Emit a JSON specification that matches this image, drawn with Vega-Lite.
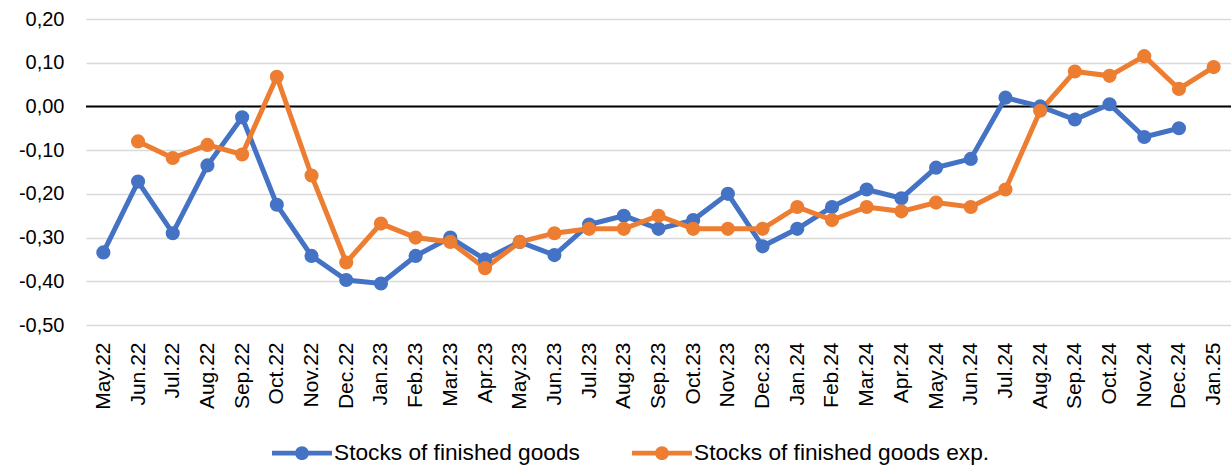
{
  "$schema": "https://vega.github.io/schema/vega-lite/v6.json",
  "autosize": {"type": "none"},
  "padding": {"left": 86, "top": 19, "right": 0, "bottom": 143},
  "width": 1145,
  "height": 306,
  "background": "white",
  "config": {
    "view": {"stroke": null},
    "font": "Liberation Sans"
  },
  "data": {
    "values": [
      {"month": "May.22", "series": "Stocks of finished goods", "value": -0.334},
      {"month": "Jun.22", "series": "Stocks of finished goods", "value": -0.172},
      {"month": "Jun.22", "series": "Stocks of finished goods exp.", "value": -0.08},
      {"month": "Jul.22", "series": "Stocks of finished goods", "value": -0.29},
      {"month": "Jul.22", "series": "Stocks of finished goods exp.", "value": -0.118},
      {"month": "Aug.22", "series": "Stocks of finished goods", "value": -0.135},
      {"month": "Aug.22", "series": "Stocks of finished goods exp.", "value": -0.088},
      {"month": "Sep.22", "series": "Stocks of finished goods", "value": -0.025},
      {"month": "Sep.22", "series": "Stocks of finished goods exp.", "value": -0.11},
      {"month": "Oct.22", "series": "Stocks of finished goods", "value": -0.225},
      {"month": "Oct.22", "series": "Stocks of finished goods exp.", "value": 0.068},
      {"month": "Nov.22", "series": "Stocks of finished goods", "value": -0.342},
      {"month": "Nov.22", "series": "Stocks of finished goods exp.", "value": -0.158},
      {"month": "Dec.22", "series": "Stocks of finished goods", "value": -0.397},
      {"month": "Dec.22", "series": "Stocks of finished goods exp.", "value": -0.357},
      {"month": "Jan.23", "series": "Stocks of finished goods", "value": -0.405},
      {"month": "Jan.23", "series": "Stocks of finished goods exp.", "value": -0.268},
      {"month": "Feb.23", "series": "Stocks of finished goods", "value": -0.342},
      {"month": "Feb.23", "series": "Stocks of finished goods exp.", "value": -0.30},
      {"month": "Mar.23", "series": "Stocks of finished goods", "value": -0.30},
      {"month": "Mar.23", "series": "Stocks of finished goods exp.", "value": -0.31},
      {"month": "Apr.23", "series": "Stocks of finished goods", "value": -0.35},
      {"month": "Apr.23", "series": "Stocks of finished goods exp.", "value": -0.37},
      {"month": "May.23", "series": "Stocks of finished goods", "value": -0.31},
      {"month": "May.23", "series": "Stocks of finished goods exp.", "value": -0.31},
      {"month": "Jun.23", "series": "Stocks of finished goods", "value": -0.34},
      {"month": "Jun.23", "series": "Stocks of finished goods exp.", "value": -0.29},
      {"month": "Jul.23", "series": "Stocks of finished goods", "value": -0.27},
      {"month": "Jul.23", "series": "Stocks of finished goods exp.", "value": -0.28},
      {"month": "Aug.23", "series": "Stocks of finished goods", "value": -0.25},
      {"month": "Aug.23", "series": "Stocks of finished goods exp.", "value": -0.28},
      {"month": "Sep.23", "series": "Stocks of finished goods", "value": -0.28},
      {"month": "Sep.23", "series": "Stocks of finished goods exp.", "value": -0.25},
      {"month": "Oct.23", "series": "Stocks of finished goods", "value": -0.26},
      {"month": "Oct.23", "series": "Stocks of finished goods exp.", "value": -0.28},
      {"month": "Nov.23", "series": "Stocks of finished goods", "value": -0.20},
      {"month": "Nov.23", "series": "Stocks of finished goods exp.", "value": -0.28},
      {"month": "Dec.23", "series": "Stocks of finished goods", "value": -0.32},
      {"month": "Dec.23", "series": "Stocks of finished goods exp.", "value": -0.28},
      {"month": "Jan.24", "series": "Stocks of finished goods", "value": -0.28},
      {"month": "Jan.24", "series": "Stocks of finished goods exp.", "value": -0.23},
      {"month": "Feb.24", "series": "Stocks of finished goods", "value": -0.23},
      {"month": "Feb.24", "series": "Stocks of finished goods exp.", "value": -0.26},
      {"month": "Mar.24", "series": "Stocks of finished goods", "value": -0.19},
      {"month": "Mar.24", "series": "Stocks of finished goods exp.", "value": -0.23},
      {"month": "Apr.24", "series": "Stocks of finished goods", "value": -0.21},
      {"month": "Apr.24", "series": "Stocks of finished goods exp.", "value": -0.24},
      {"month": "May.24", "series": "Stocks of finished goods", "value": -0.14},
      {"month": "May.24", "series": "Stocks of finished goods exp.", "value": -0.22},
      {"month": "Jun.24", "series": "Stocks of finished goods", "value": -0.12},
      {"month": "Jun.24", "series": "Stocks of finished goods exp.", "value": -0.23},
      {"month": "Jul.24", "series": "Stocks of finished goods", "value": 0.02},
      {"month": "Jul.24", "series": "Stocks of finished goods exp.", "value": -0.19},
      {"month": "Aug.24", "series": "Stocks of finished goods", "value": 0.0},
      {"month": "Aug.24", "series": "Stocks of finished goods exp.", "value": -0.01},
      {"month": "Sep.24", "series": "Stocks of finished goods", "value": -0.03},
      {"month": "Sep.24", "series": "Stocks of finished goods exp.", "value": 0.08},
      {"month": "Oct.24", "series": "Stocks of finished goods", "value": 0.005},
      {"month": "Oct.24", "series": "Stocks of finished goods exp.", "value": 0.07},
      {"month": "Nov.24", "series": "Stocks of finished goods", "value": -0.07},
      {"month": "Nov.24", "series": "Stocks of finished goods exp.", "value": 0.115},
      {"month": "Dec.24", "series": "Stocks of finished goods", "value": -0.05},
      {"month": "Dec.24", "series": "Stocks of finished goods exp.", "value": 0.04},
      {"month": "Jan.25", "series": "Stocks of finished goods exp.", "value": 0.09}
    ]
  },
  "layer": [
    {
      "mark": {"type": "rule", "color": "black", "strokeWidth": 2},
      "data": {"values": [{"zero": 0}]},
      "encoding": {"y": {"field": "zero", "type": "quantitative"}}
    },
    {
      "mark": {"type": "line", "strokeWidth": 5, "point": {"filled": true, "size": 200, "opacity": 1}},
      "encoding": {
        "x": {
          "field": "month",
          "type": "ordinal",
          "sort": null,
          "scale": {"type": "point", "padding": 0.5},
          "axis": {
            "title": null,
            "labelAngle": -90,
            "labelAlign": "right",
            "labelBaseline": "middle",
            "labelFontSize": 21,
            "labelColor": "#000000",
            "labelPadding": 17,
            "domain": false,
            "ticks": false,
            "grid": false
          }
        },
        "y": {
          "field": "value",
          "type": "quantitative",
          "scale": {"domain": [-0.5, 0.2], "nice": false, "zero": false},
          "axis": {
            "title": null,
            "values": [-0.5, -0.4, -0.3, -0.2, -0.1, 0, 0.1, 0.2],
            "labelExpr": "replace(replace(format(datum.value, '.2f'), '.', ','), '\u2212', '-')",
            "labelFontSize": 20,
            "labelColor": "#000000",
            "labelPadding": 22,
            "domain": false,
            "ticks": false,
            "grid": true,
            "gridColor": "#d9d9d9",
            "gridWidth": 1.6
          }
        },
        "color": {
          "field": "series",
          "type": "nominal",
          "scale": {
            "domain": ["Stocks of finished goods", "Stocks of finished goods exp."],
            "range": ["#4472C4", "#ED7D31"]
          },
          "legend": {
            "title": null,
            "orient": "none",
            "direction": "horizontal",
            "legendX": 186,
            "legendY": 404,
            "symbolType": "M-1,-0.08H1V0.08H-1Z M-0.23,0A0.23,0.23 0 1,1 0.23,0A0.23,0.23 0 1,1 -0.23,0Z",
            "symbolSize": 3600,
            "symbolStrokeWidth": 0,
            "labelFontSize": 22.7,
            "labelLimit": 500,
            "labelColor": "#000000",
            "labelOffset": 2,
            "columnPadding": 52,
            "encode": {
              "symbols": {
                "update": {
                  "fill": {"scale": "color", "field": "value"},
                  "fillOpacity": {"value": 1},
                  "strokeWidth": {"value": 0}
                }
              }
            }
          }
        }
      }
    }
  ]
}
